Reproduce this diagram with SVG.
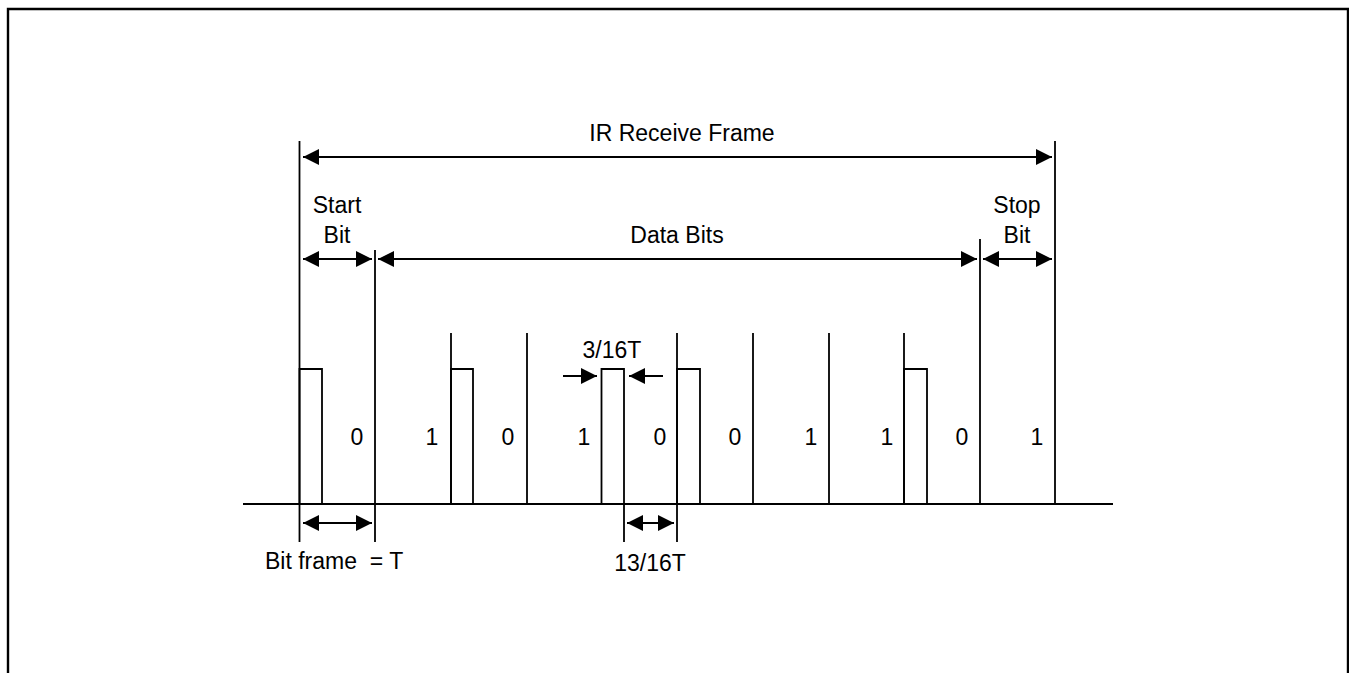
<svg xmlns="http://www.w3.org/2000/svg" width="1349" height="673" viewBox="0 0 1349 673">
<defs>
<marker id="ah" viewBox="0 0 16 16" refX="16" refY="8" markerWidth="16" markerHeight="16" orient="auto-start-reverse" markerUnits="userSpaceOnUse"><path d="M0,0 L16,8 L0,16 z" fill="#000"/></marker>
<style>
.ln{stroke:#000;stroke-width:1.8;fill:none}
.ar{stroke:#000;stroke-width:1.8;fill:none;marker-start:url(#ah);marker-end:url(#ah)}
.ar1{stroke:#000;stroke-width:1.8;fill:none;marker-end:url(#ah)}
text{font-family:"Liberation Sans",Arial,sans-serif;font-size:23px;fill:#000}
.c{text-anchor:middle}
</style>
</defs>
<rect width="1349" height="673" fill="#fff"/>
<path d="M8 673 V9 H1348 V673" fill="none" stroke="#000" stroke-width="2.4"/>
<g id="signal">
<line class="ln" x1="243" y1="504" x2="1113" y2="504"/>
<path class="ln" d="M299.5 504 V369 H322 V504"/>
<path class="ln" d="M451 504 V369 H473 V504"/>
<path class="ln" d="M601.5 504 V369 H624 V504"/>
<path class="ln" d="M677 504 V369 H700 V504"/>
<path class="ln" d="M904 504 V369 H927 V504"/>
</g>
<g id="boundaries">
<line class="ln" x1="299.5" y1="141" x2="299.5" y2="542"/>
<line class="ln" x1="375" y1="250" x2="375" y2="542"/>
<line class="ln" x1="451" y1="333" x2="451" y2="504"/>
<line class="ln" x1="527" y1="333" x2="527" y2="504"/>
<line class="ln" x1="624" y1="504" x2="624" y2="542"/>
<line class="ln" x1="677" y1="333" x2="677" y2="542"/>
<line class="ln" x1="753" y1="333" x2="753" y2="504"/>
<line class="ln" x1="829" y1="333" x2="829" y2="504"/>
<line class="ln" x1="904" y1="333" x2="904" y2="504"/>
<line class="ln" x1="980" y1="239" x2="980" y2="504"/>
<line class="ln" x1="1055" y1="141" x2="1055" y2="504"/>
</g>
<g id="connectors">
<line class="ar" x1="303" y1="157" x2="1052" y2="157"/>
<line class="ar" x1="303" y1="259" x2="372" y2="259"/>
<line class="ar" x1="378" y1="259" x2="977" y2="259"/>
<line class="ar" x1="983" y1="259" x2="1052" y2="259"/>
<line class="ar" x1="303" y1="523" x2="372" y2="523"/>
<line class="ar" x1="627" y1="523" x2="674" y2="523"/>
<line class="ar1" x1="563" y1="376" x2="597" y2="376"/>
<line class="ar1" x1="663" y1="376" x2="629" y2="376"/>
</g>
<g id="labels">
<text class="c" x="682" y="141">IR Receive Frame</text>
<text class="c" x="337" y="213">Start</text>
<text class="c" x="337" y="243">Bit</text>
<text class="c" x="677" y="243">Data Bits</text>
<text class="c" x="1017" y="213">Stop</text>
<text class="c" x="1017" y="243">Bit</text>
<text class="c" x="612" y="358">3/16T</text>
<text x="265" y="569" xml:space="preserve">Bit frame  = T</text>
<text class="c" x="650" y="571">13/16T</text>
</g>
<g id="bits">
<text class="c" x="357" y="445">0</text>
<text class="c" x="432" y="445">1</text>
<text class="c" x="508" y="445">0</text>
<text class="c" x="584" y="445">1</text>
<text class="c" x="660" y="445">0</text>
<text class="c" x="735" y="445">0</text>
<text class="c" x="811" y="445">1</text>
<text class="c" x="887" y="445">1</text>
<text class="c" x="962" y="445">0</text>
<text class="c" x="1037" y="445">1</text>
</g>
</svg>
